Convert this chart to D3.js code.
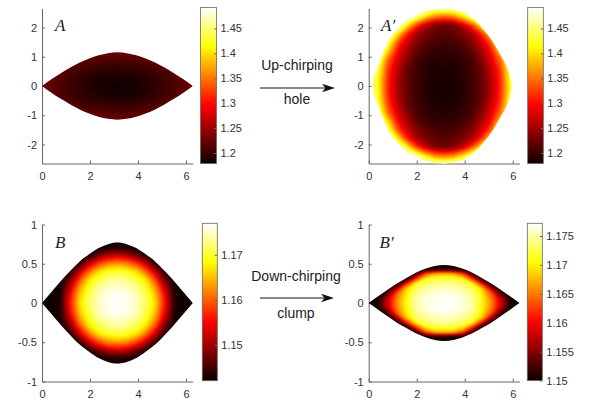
<!DOCTYPE html>
<html>
<head>
<meta charset="utf-8">
<script src="https://cdn.jsdelivr.net/npm/d3@7"></script>
<style>
  body { margin: 0; background: #fff; }
  svg text { font-family: "Liberation Sans", Arial, sans-serif; }
</style>
</head>
<body>
<div id="container"></div>
<script>
/* DATA */

// theta samples of one half of the well (0..pi); the fields are mirrored about theta = pi and p = 0
const thetaHalf = [0, 0.393, 0.785, 1.178, 1.571, 1.963, 2.356, 2.749, 3.142];
const thetaFull = [0, 0.393, 0.785, 1.178, 1.571, 1.963, 2.356, 2.749, 3.142,
                   3.534, 3.927, 4.320, 4.712, 5.105, 5.498, 5.890, 6.283];

// separatrix half-height along thetaFull
const halfA  = [0, 0.23, 0.44, 0.63, 0.80, 0.94, 1.05, 1.12, 1.15, 1.12, 1.05, 0.94, 0.80, 0.63, 0.44, 0.23, 0];
const halfB  = [0, 0.14, 0.28, 0.41, 0.53, 0.62, 0.70, 0.75, 0.77, 0.75, 0.70, 0.62, 0.53, 0.41, 0.28, 0.14, 0];
const halfB2 = [0, 0.085, 0.17, 0.25, 0.32, 0.385, 0.435, 0.47, 0.485, 0.47, 0.435, 0.385, 0.32, 0.25, 0.17, 0.085, 0];
// A' boundary is a rounded diamond, not quite symmetric
const thetaA2 = [0.12, 0.22, 0.39, 0.785, 1.18, 1.57, 1.96, 2.36, 2.75, 3.14, 3.53, 3.92, 4.32, 4.71, 5.10, 5.50, 5.70, 5.90, 5.96];
const halfA2  = [0, 0.32, 0.66, 1.48, 1.92, 2.23, 2.44, 2.56, 2.63, 2.66, 2.62, 2.52, 2.33, 2.00, 1.60, 1.05, 0.75, 0.28, 0];

// p rows (p >= 0) of each field grid
const pRowsA  = [0, 0.15, 0.3, 0.45, 0.6, 0.75, 0.9, 1.05, 1.2];
const pRowsA2 = [0, 0.3, 0.6, 0.9, 1.2, 1.5, 1.8, 2.1, 2.4, 2.7];
const pRowsB  = [0, 0.1, 0.2, 0.3, 0.4, 0.5, 0.6, 0.7, 0.8];
const pRowsB2 = [0, 0.06, 0.12, 0.18, 0.24, 0.3, 0.36, 0.42, 0.48, 0.54];

// distribution values, rows = pRows, cols = thetaHalf
const fieldA = [
  [1.227, 1.218, 1.210, 1.203, 1.196, 1.191, 1.186, 1.183, 1.181],
  [1.227, 1.219, 1.211, 1.203, 1.197, 1.192, 1.187, 1.184, 1.183],
  [1.227, 1.221, 1.213, 1.206, 1.199, 1.194, 1.190, 1.187, 1.186],
  [1.227, 1.224, 1.216, 1.209, 1.203, 1.198, 1.194, 1.192, 1.191],
  [1.227, 1.227, 1.221, 1.214, 1.208, 1.204, 1.200, 1.198, 1.197],
  [1.227, 1.227, 1.226, 1.220, 1.214, 1.210, 1.207, 1.205, 1.204],
  [1.227, 1.227, 1.227, 1.227, 1.222, 1.217, 1.214, 1.213, 1.212],
  [1.227, 1.227, 1.227, 1.227, 1.227, 1.226, 1.223, 1.221, 1.221],
  [1.227, 1.227, 1.227, 1.227, 1.227, 1.227, 1.227, 1.227, 1.227]
];
const fieldA2 = [
  [1.490, 1.415, 1.312, 1.258, 1.222, 1.203, 1.192, 1.186, 1.180],
  [1.490, 1.419, 1.315, 1.261, 1.223, 1.204, 1.193, 1.187, 1.184],
  [1.490, 1.432, 1.325, 1.268, 1.227, 1.206, 1.195, 1.189, 1.188],
  [1.490, 1.458, 1.345, 1.283, 1.240, 1.210, 1.198, 1.193, 1.192],
  [1.490, 1.490, 1.400, 1.300, 1.255, 1.222, 1.205, 1.198, 1.196],
  [1.490, 1.490, 1.450, 1.338, 1.275, 1.240, 1.218, 1.209, 1.206],
  [1.490, 1.490, 1.490, 1.415, 1.318, 1.258, 1.233, 1.220, 1.216],
  [1.490, 1.490, 1.490, 1.490, 1.425, 1.332, 1.272, 1.235, 1.226],
  [1.490, 1.490, 1.490, 1.490, 1.490, 1.475, 1.410, 1.364, 1.349],
  [1.490, 1.490, 1.490, 1.490, 1.490, 1.490, 1.490, 1.490, 1.490]
];
const fieldB = [
  [1.1420, 1.1420, 1.1435, 1.1559, 1.1665, 1.1717, 1.1750, 1.1767, 1.1770],
  [1.1420, 1.1420, 1.1432, 1.1550, 1.1655, 1.1712, 1.1746, 1.1761, 1.1767],
  [1.1420, 1.1420, 1.1427, 1.1518, 1.1629, 1.1697, 1.1732, 1.1751, 1.1755],
  [1.1420, 1.1420, 1.1420, 1.1473, 1.1584, 1.1667, 1.1705, 1.1726, 1.1734],
  [1.1420, 1.1420, 1.1420, 1.1432, 1.1517, 1.1604, 1.1664, 1.1691, 1.1697],
  [1.1420, 1.1420, 1.1420, 1.1420, 1.1438, 1.1520, 1.1582, 1.1618, 1.1630],
  [1.1420, 1.1420, 1.1420, 1.1420, 1.1420, 1.1434, 1.1478, 1.1515, 1.1529],
  [1.1420, 1.1420, 1.1420, 1.1420, 1.1420, 1.1420, 1.1422, 1.1430, 1.1432],
  [1.1420, 1.1420, 1.1420, 1.1420, 1.1420, 1.1420, 1.1420, 1.1420, 1.1420]
];
const fieldB2 = [
  [1.1500, 1.1509, 1.1582, 1.1658, 1.1707, 1.1748, 1.1762, 1.1769, 1.1772],
  [1.1500, 1.1500, 1.1576, 1.1652, 1.1703, 1.1746, 1.1761, 1.1768, 1.1770],
  [1.1500, 1.1500, 1.1520, 1.1638, 1.1697, 1.1740, 1.1755, 1.1763, 1.1765],
  [1.1500, 1.1500, 1.1500, 1.1570, 1.1686, 1.1728, 1.1746, 1.1754, 1.1757],
  [1.1500, 1.1500, 1.1500, 1.1500, 1.1610, 1.1713, 1.1730, 1.1741, 1.1745],
  [1.1500, 1.1500, 1.1500, 1.1500, 1.1506, 1.1622, 1.1711, 1.1721, 1.1724],
  [1.1500, 1.1500, 1.1500, 1.1500, 1.1500, 1.1527, 1.1636, 1.1680, 1.1690],
  [1.1500, 1.1500, 1.1500, 1.1500, 1.1500, 1.1500, 1.1500, 1.1511, 1.1516],
  [1.1500, 1.1500, 1.1500, 1.1500, 1.1500, 1.1500, 1.1500, 1.1500, 1.1500],
  [1.1500, 1.1500, 1.1500, 1.1500, 1.1500, 1.1500, 1.1500, 1.1500, 1.1500]
];

// colour bar limits and ticks
const cbDomainA  = [1.179, 1.492];
const cbDomainA2 = [1.179, 1.492];
const cbDomainB  = [1.142, 1.177];
const cbDomainB2 = [1.150, 1.1772];
const cbTicksA  = [1.2, 1.25, 1.3, 1.35, 1.4, 1.45];
const cbTicksB  = [1.15, 1.16, 1.17];
const cbTicksB2 = [1.15, 1.155, 1.16, 1.165, 1.17, 1.175];

// axis ticks
const xTicks = [0, 2, 4, 6];
const yTicksTop = [-2, -1, 0, 1, 2];
const yTicksBottom = [-1, -0.5, 0, 0.5, 1];

const arrowTexts = [["Up-chirping", "hole"], ["Down-chirping", "clump"]];

/* LAYOUT */
const width = 590, height = 402;

const panels = [
  { id: "A", label: "A", field: fieldA, rows: pRowsA, bTheta: thetaFull, bHalf: halfA,
    yDom: [-2.65, 2.65], yTicks: yTicksTop, cbDom: cbDomainA, cbTicks: cbTicksA,
    box: { x0: 42, x1: 192.8, y0: 8.5, y1: 163.5 }, cb: { x: 200.5, w: 16, y0: 7.5, y1: 163.5 },
    lab: { x: 55, y: 30.5 } },
  { id: "A2", label: "A\u2032", field: fieldA2, rows: pRowsA2, bTheta: thetaA2, bHalf: halfA2,
    yDom: [-2.65, 2.65], yTicks: yTicksTop, cbDom: cbDomainA2, cbTicks: cbTicksA,
    box: { x0: 368.7, x1: 519.5, y0: 8.5, y1: 163.5 }, cb: { x: 527.7, w: 15.6, y0: 7.5, y1: 163.5 },
    lab: { x: 381, y: 31 } },
  { id: "B", label: "B", field: fieldB, rows: pRowsB, bTheta: thetaFull, bHalf: halfB,
    yDom: [-1, 1], yTicks: yTicksBottom, cbDom: cbDomainB, cbTicks: cbTicksB,
    box: { x0: 42, x1: 192.8, y0: 224.5, y1: 381.5 }, cb: { x: 202.3, w: 15, y0: 223.3, y1: 380.7 },
    lab: { x: 55, y: 247.5 } },
  { id: "B2", label: "B\u2032", field: fieldB2, rows: pRowsB2, bTheta: thetaFull, bHalf: halfB2,
    yDom: [-1, 1], yTicks: yTicksBottom, cbDom: cbDomainB2, cbTicks: cbTicksB2,
    box: { x0: 368.7, x1: 519.5, y0: 224.5, y1: 381.5 }, cb: { x: 527.3, w: 15, y0: 223.3, y1: 380.5 },
    lab: { x: 379.5, y: 248 } }
];

const arrowPos = [
  { x0: 260, x1: 335, y: 88, tx: 297, ty: [70, 104] },
  { x0: 260, x1: 334, y: 298, tx: 296, ty: [280.5, 317.5] }
];

const axisColor = "#666", labelColor = "#333";

// MATLAB "hot" colour map over a value range
const hotStops = [0, 0.375, 0.75, 1];
const hotColors = ["#0b0000", "#ff0000", "#ffff00", "#ffffff"];
const hot = dom => d3.scaleLinear()
  .domain(hotStops.map(f => dom[0] + f * (dom[1] - dom[0])))
  .range(hotColors)
  .clamp(true);

// mirror a half grid about theta = pi and p = 0
function fullGrid(half, rows) {
  const wide = half.map(r => r.concat(r.slice(0, -1).reverse()));
  const all = wide.slice(1).reverse().concat(wide);
  const pAll = rows.slice(1).map(p => -p).reverse().concat(rows);
  return { values: all.flat(), nx: wide[0].length, ny: all.length, pAll };
}

const svg = d3.select("#container").append("svg")
  .attr("width", width)
  .attr("height", height);
const defs = svg.append("defs");
defs.append("filter").attr("id", "soft")
  .append("feGaussianBlur").attr("stdDeviation", 1.1);

panels.forEach(P => {
  const g = svg.append("g");
  const xs = d3.scaleLinear().domain([0, 2 * Math.PI]).range([P.box.x0, P.box.x1]);
  const ys = d3.scaleLinear().domain(P.yDom).range([P.box.y1, P.box.y0]);

  // axes (ticks pointing inwards, box off)
  const xAxis = d3.axisBottom(xs).tickValues(xTicks).tickSize(-3).tickSizeOuter(0).tickPadding(9)
    .tickFormat(d => String(d));
  const yAxis = d3.axisLeft(ys).tickValues(P.yTicks).tickSize(-3).tickSizeOuter(0).tickPadding(5)
    .tickFormat(d => String(d));
  const gx = g.append("g").attr("transform", `translate(0,${P.box.y1})`).call(xAxis);
  const gy = g.append("g").attr("transform", `translate(${P.box.x0},0)`).call(yAxis);
  [gx, gy].forEach(a => {
    a.select(".domain").attr("stroke", axisColor);
    a.selectAll(".tick line").attr("stroke", axisColor);
    a.selectAll("text").attr("fill", labelColor).style("font-size", "11px");
  });

  // heat map: filled contours of the grid, clipped to the separatrix
  const color = hot(P.cbDom);
  const G = fullGrid(P.field, P.rows);
  const lo = d3.min(G.values), hi = d3.max(G.values);
  const n = 70, step = (hi - lo) / n;
  const thr = d3.range(n).map(k => lo + k * step);
  const contours = d3.contours().size([G.nx, G.ny]).thresholds(thr)(G.values);
  const gridX = d3.scaleLinear().domain([0.5, G.nx - 0.5]).range([thetaFull[0], thetaFull[thetaFull.length - 1]]);
  const gridY = d3.scaleLinear().domain([0.5, G.ny - 0.5]).range([G.pAll[0], G.pAll[G.ny - 1]]);
  const proj = d3.geoTransform({
    point(x, y) { this.stream.point(xs(gridX(x)), ys(gridY(y))); }
  });
  const path = d3.geoPath(proj);

  const area = d3.area()
    .x(d => xs(d[0]))
    .y0(d => ys(-d[1]))
    .y1(d => ys(d[1]))
    .curve(d3.curveMonotoneX);
  defs.append("clipPath").attr("id", "clip" + P.id)
    .append("path").attr("d", area(d3.zip(P.bTheta, P.bHalf)));

  g.append("g").attr("clip-path", `url(#clip${P.id})`)
    .append("g").attr("filter", "url(#soft)")
    .selectAll("path")
    .data(contours)
    .join("path")
    .attr("d", path)
    .attr("fill", d => color(d.value + step / 2));

  // panel letter
  g.append("text")
    .attr("x", P.lab.x).attr("y", P.lab.y)
    .style("font-family", "'Liberation Serif', 'DejaVu Serif', serif")
    .style("font-style", "italic")
    .style("font-size", "17px")
    .attr("fill", "#222")
    .text(P.label);

  // colour bar
  const cbScale = d3.scaleLinear().domain(P.cbDom).range([P.cb.y1, P.cb.y0]);
  const grad = defs.append("linearGradient").attr("id", "grad" + P.id)
    .attr("x1", 0).attr("y1", 1).attr("x2", 0).attr("y2", 0);
  grad.selectAll("stop").data(hotStops).join("stop")
    .attr("offset", d => d)
    .attr("stop-color", (d, i) => hotColors[i]);
  g.append("rect")
    .attr("x", P.cb.x).attr("y", P.cb.y0)
    .attr("width", P.cb.w).attr("height", P.cb.y1 - P.cb.y0)
    .attr("fill", `url(#grad${P.id})`)
    .attr("stroke", axisColor).attr("stroke-width", 0.8);
  const cbAxis = d3.axisRight(cbScale).tickValues(P.cbTicks).tickSize(-2.5).tickSizeOuter(0).tickPadding(4)
    .tickFormat(d => String(d));
  const gc = g.append("g").attr("transform", `translate(${P.cb.x + P.cb.w},0)`).call(cbAxis);
  gc.select(".domain").remove();
  gc.selectAll(".tick line").attr("stroke", axisColor);
  gc.selectAll("text").attr("fill", labelColor).style("font-size", "11px");
});

// arrows between the panels
arrowPos.forEach((a, i) => {
  const g = svg.append("g");
  g.append("line")
    .attr("x1", a.x0).attr("x2", a.x1 - 6)
    .attr("y1", a.y).attr("y2", a.y)
    .attr("stroke", "#111").attr("stroke-width", 1);
  g.append("path")
    .attr("d", `M${a.x1},${a.y} L${a.x1 - 13},${a.y - 4.2} L${a.x1 - 9.5},${a.y} L${a.x1 - 13},${a.y + 4.2} Z`)
    .attr("fill", "#111");
  arrowTexts[i].forEach((t, k) => {
    g.append("text")
      .attr("x", a.tx).attr("y", a.ty[k])
      .attr("text-anchor", "middle")
      .style("font-size", "14px")
      .attr("fill", "#222")
      .text(t);
  });
});
</script>
</body>
</html>
